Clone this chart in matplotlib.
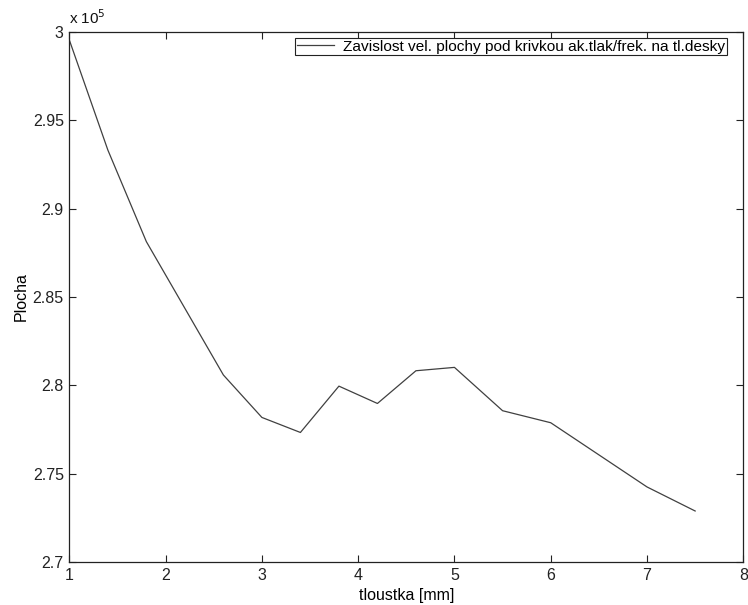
import matplotlib
matplotlib.use("Agg")
import matplotlib.pyplot as plt
from matplotlib.ticker import FuncFormatter

thickness = [1.0, 1.4, 1.8, 2.6, 3.0, 3.4, 3.8, 4.2, 4.6, 5.0, 5.5, 6.0, 7.0, 7.5]
area = [2.9953e5, 2.9331e5, 2.8813e5, 2.8059e5, 2.7819e5, 2.7734e5, 2.7996e5,
        2.7898e5, 2.8083e5, 2.8102e5, 2.7857e5, 2.7789e5, 2.7426e5, 2.7290e5]
xticks = [1, 2, 3, 4, 5, 6, 7, 8]
yticks = [2.70e5, 2.75e5, 2.80e5, 2.85e5, 2.90e5, 2.95e5, 3.00e5]
legend_label = "Zavislost vel. plochy pod krivkou ak.tlak/frek. na tl.desky"

plt.rcParams['font.family'] = ['Liberation Sans', 'DejaVu Sans']
fs = 11.5

fig = plt.figure(figsize=(7.48, 6.05), dpi=100)
ax = fig.add_axes([0.0927, 0.0706, 0.9937 - 0.0927, 0.9476 - 0.0706])
ax.plot(thickness, area, color='#404040', lw=0.9, label=legend_label)
ax.set_xlim(1, 8)
ax.set_ylim(2.7e5, 3.0e5)
ax.set_xticks(xticks)
ax.set_yticks(yticks)
ax.yaxis.set_major_formatter(FuncFormatter(lambda v, p: '%g' % round(v / 1e5, 4)))
ax.tick_params(direction='in', top=True, right=True, length=5, width=0.8,
               labelsize=fs, colors='#222222', pad=4)
for s in ax.spines.values():
    s.set_color('#222222')
    s.set_linewidth(0.9)
ax.text(0.0, 1.008, r'x 10$^5$', transform=ax.transAxes, fontsize=fs - 0.5,
        ha='left', va='bottom', color='#111111')
ax.set_xlabel('tloustka [mm]', fontsize=fs, labelpad=4)
ax.set_ylabel('Plocha', fontsize=fs, labelpad=3)
leg = ax.legend(loc='upper right', bbox_to_anchor=(0.9754, 0.9876), fontsize=11.1,
                frameon=True, fancybox=False, framealpha=1, edgecolor='#222222',
                borderpad=0.1, handlelength=2.4, handletextpad=0.6, borderaxespad=0)
leg.get_frame().set_linewidth(0.8)
fig.savefig('out.png', dpi=100)
